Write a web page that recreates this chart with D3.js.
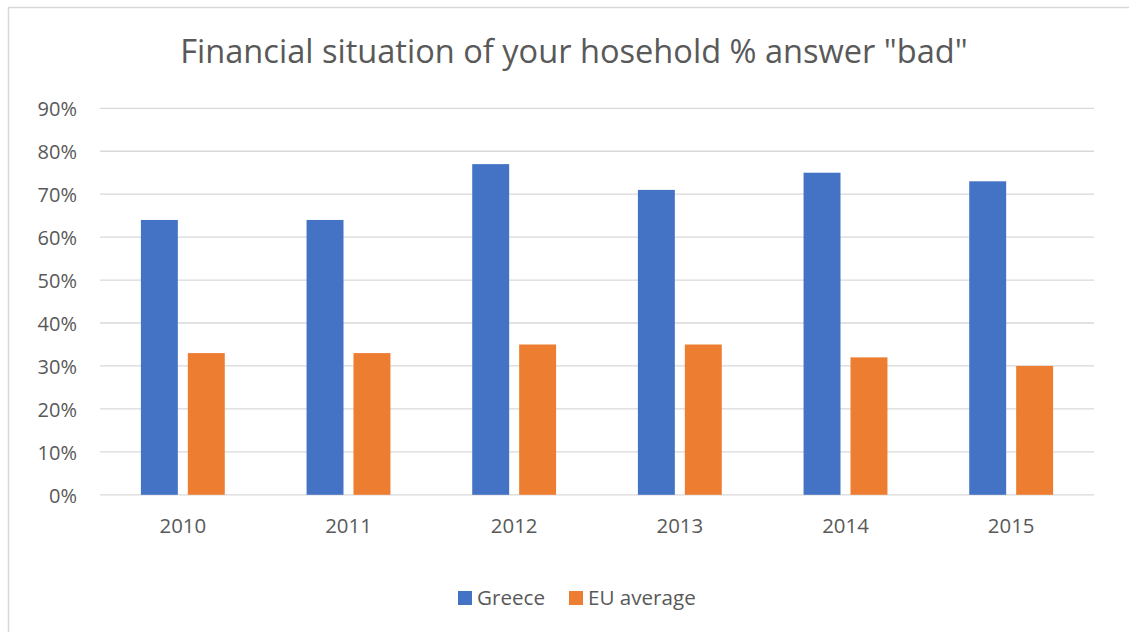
<!DOCTYPE html>
<html>
<head>
<meta charset="utf-8">
<script src="https://cdn.jsdelivr.net/npm/d3@7"></script>
<style>
  html, body { margin: 0; padding: 0; background: #fff; }
  svg { display: block; }
  text { font-family: "Open Sans", "Noto Sans", sans-serif; fill: #595959; }
</style>
</head>
<body>
<svg id="chart" width="1129" height="632"></svg>
<script>
// Survey share answering "bad" about household finances
const years = ["2010", "2011", "2012", "2013", "2014", "2015"];
const greece = [64, 64, 77, 71, 75, 73];
const euAverage = [33, 33, 35, 35, 32, 30];
const seriesNames = ["Greece", "EU average"];
const seriesColors = ["#4472C4", "#ED7D31"];
const yTicks = [0, 10, 20, 30, 40, 50, 60, 70, 80, 90];
const titleText = 'Financial situation of your hosehold % answer "bad"';

const svg = d3.select("#chart");
const W = 1129, H = 632;

// chart frame
svg.append("rect")
  .attr("x", 8.5).attr("y", 7.5)
  .attr("width", W + 20).attr("height", H + 20)
  .attr("fill", "#fff").attr("stroke", "#d9d9d9").attr("stroke-width", 1.5);

const plot = { left: 100, right: 1094, top: 108.3, bottom: 494.8 };

const x = d3.scaleBand().domain(years).range([plot.left, plot.right]).paddingInner(0).paddingOuter(0);
const y = d3.scaleLinear().domain([0, 90]).range([plot.bottom, plot.top]);

// title
svg.append("text")
  .attr("x", 574).attr("y", 63)
  .attr("text-anchor", "middle")
  .style("font-size", "32.6px")
  .text(titleText);

// gridlines
svg.append("g").selectAll("line")
  .data(yTicks)
  .join("line")
  .attr("x1", plot.left).attr("x2", plot.right)
  .attr("y1", d => y(d)).attr("y2", d => y(d))
  .attr("stroke", "#d9d9d9").attr("stroke-width", 1.3);

// y axis labels
const yAxis = d3.axisLeft(y).tickValues(yTicks).tickFormat(d => d + "%").tickSize(0).tickPadding(0);
const yg = svg.append("g").attr("transform", `translate(${plot.left - 23},0)`).call(yAxis);
yg.select(".domain").remove();
yg.selectAll("text").style("font-size", "20px").attr("fill", "#595959").attr("font-family", null).attr("dy", "0.36em");

// x axis labels
const xAxis = d3.axisBottom(x).tickSize(0).tickPadding(0);
const xg = svg.append("g").attr("transform", `translate(0,${plot.bottom + 38})`).call(xAxis);
xg.select(".domain").remove();
xg.selectAll("text").style("font-size", "20.4px").attr("fill", "#595959").attr("font-family", null).attr("dy", null);

// grouped bars
const barW = x.bandwidth() * 0.223;
const gap = 10;
const series = [greece, euAverage];
series.forEach((vals, si) => {
  svg.append("g").selectAll("rect")
    .data(vals.map((v, i) => ({ year: years[i], v })))
    .join("rect")
    .attr("x", d => x(d.year) + x.bandwidth() / 2 - barW - gap / 2 + si * (barW + gap))
    .attr("y", d => y(d.v))
    .attr("width", barW)
    .attr("height", d => y(0) - y(d.v))
    .attr("fill", seriesColors[si]);
});

// legend
const legendItems = [
  { name: seriesNames[0], color: seriesColors[0], x: 458 },
  { name: seriesNames[1], color: seriesColors[1], x: 569 }
];
const lg = svg.append("g");
legendItems.forEach(it => {
  lg.append("rect").attr("x", it.x).attr("y", 591).attr("width", 14).attr("height", 14).attr("fill", it.color);
  lg.append("text").attr("x", it.x + 19).attr("y", 605).style("font-size", "20.6px").text(it.name);
});
</script>
</body>
</html>
